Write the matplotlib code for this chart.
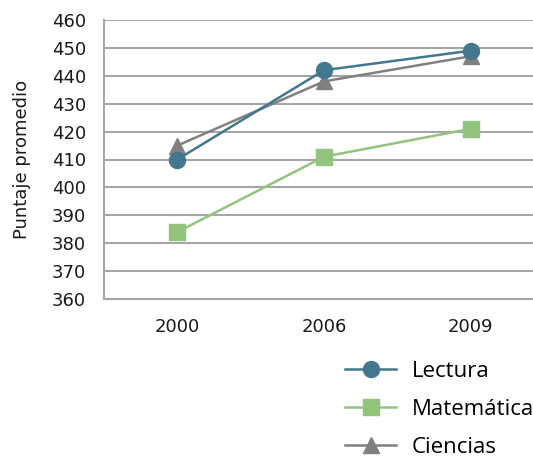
import matplotlib
matplotlib.use("Agg")
import matplotlib.pyplot as plt
from matplotlib.lines import Line2D

years = ["2000", "2006", "2009"]
lectura = [410, 442, 449]
matematica = [384, 411, 421]
ciencias = [415, 438, 447]
yticks = list(range(360, 461, 10))

c_lec = "#43778d"
c_mat = "#93c47d"
c_cie = "#808080"

fig = plt.figure(figsize=(5.33, 4.59), dpi=100)
ax = fig.add_axes([104/533, 1-299/459, (544-104)/533, (299-20)/459])

x = list(range(len(years)))
ax.plot(x, ciencias, color=c_cie, lw=1.8, marker="^", ms=11, zorder=3, label="Ciencias")
ax.plot(x, matematica, color=c_mat, lw=1.8, marker="s", ms=12, zorder=3, label="Matemática")
ax.plot(x, lectura, color=c_lec, lw=1.8, marker="o", ms=11.5, zorder=4, label="Lectura")

ax.set_xlim(-0.5, 2.5)
ax.set_ylim(360, 460)
ax.set_yticks(yticks)
ax.set_xticks(x)
ax.set_xticklabels(years)
ax.grid(axis="y", color="#a6a6a6", lw=1.5)
ax.set_axisbelow(True)
for s in ["top", "right"]:
    ax.spines[s].set_visible(False)
for s in ["left", "bottom"]:
    ax.spines[s].set_color("#a6a6a6")
    ax.spines[s].set_linewidth(1.5)
ax.tick_params(axis="y", length=0, pad=13, labelsize=13, colors="#1a1a1a")
ax.tick_params(axis="x", length=0, pad=14, labelsize=13, colors="#1a1a1a")
ax.set_ylabel("Puntaje promedio", fontsize=13, color="#1a1a1a", labelpad=15)

handles = [
    Line2D([], [], color=c_lec, lw=1.8, marker="o", ms=11.5),
    Line2D([], [], color=c_mat, lw=1.8, marker="s", ms=12),
    Line2D([], [], color=c_cie, lw=1.8, marker="^", ms=11),
]
labels = ["Lectura", "Matemática", "Ciencias"]
fig.legend(handles, labels, loc="upper left", bbox_to_anchor=(345/533, 1-361/459),
           frameon=False, prop={"family": "Open Sans", "size": 16},
           handlelength=2.3, handletextpad=0.72, labelspacing=0.77, borderpad=0,
           borderaxespad=0)

fig.savefig("out.png", dpi=100)
